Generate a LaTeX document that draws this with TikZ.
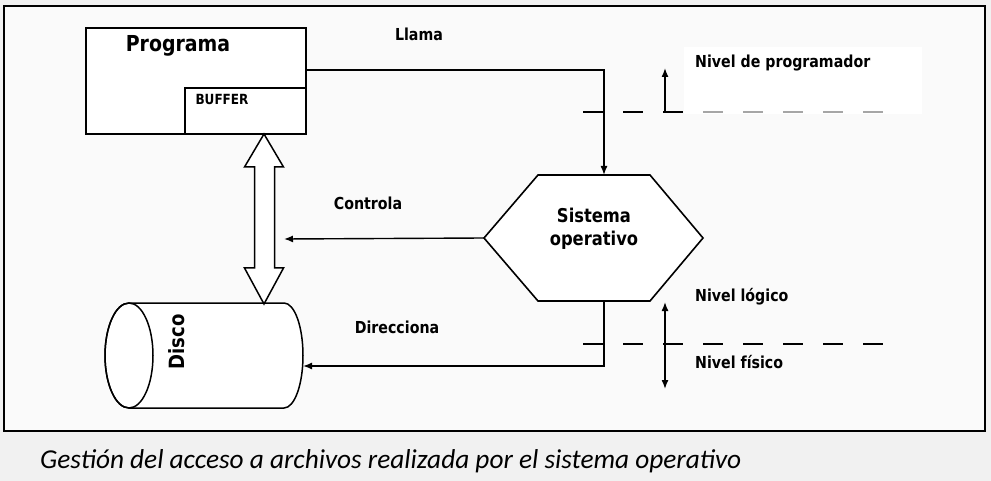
\documentclass[tikz,border=0pt]{standalone}
\usepackage{fontspec}
\setmainfont{DejaVu Sans}[FakeStretch=0.86]
\newfontfamily\capfont{Carlito}
\usetikzlibrary{arrows.meta,calc}
\begin{document}
\begin{tikzpicture}[x=1pt,y=-1pt,
  box/.style={draw,line width=1.6pt,fill=white,inner sep=0pt},
  conn/.style={line width=1.4pt},
  tip/.style={-{Latex[length=9pt,width=7pt]}},
  lbl/.style={font=\bfseries\fontsize{#1}{#1}\selectfont,inner sep=0pt},
  lbl/.default=16.5,
  dashline/.style={line width=1.4pt,dash pattern=on 20pt off 20pt}]
\useasboundingbox (0,0) rectangle (991,481);
\fill[gray!11] (0,0) rectangle (991,481);
\draw[line width=2pt,fill=gray!4] (4,6) rectangle (985,431);
% white label area
\fill[white] (684,47) rectangle (922,114);
% Programa box
\node[box,anchor=north west,minimum width=220pt,minimum height=106pt] (prog) at (85,27) {};
\node[box,anchor=south east,minimum width=121pt,minimum height=46pt] (buf) at (prog.south east) {};
\node[lbl=22] (progt) at (178,46) {Programa};
\node[lbl=14] (buft) at (222,99) {BUFFER};
% hexagon
\coordinate (soT) at (604,175);
\coordinate (soL) at (484,238);
\coordinate (soB) at (604,301);
\draw[line width=1.6pt,fill=white] (484,238) -- (538,175) -- (650,175) -- (703,238) -- (650,301) -- (538,301) -- cycle;
\node[lbl=19,align=center] (so) at (594,229) {Sistema\\[4pt]operativo};
% disk
\draw[line width=1.5pt,fill=white] (129,303) -- (284,303)
  arc[start angle=-90,end angle=90,x radius=19,y radius=52.5] -- (129,408)
  arc[start angle=90,end angle=270,x radius=24,y radius=52.5] -- cycle;
\draw[line width=1.5pt] (129,355.5) ellipse[x radius=24,y radius=52.5];
\node[lbl=21,rotate=90] (disco) at (177,342) {Disco};
\coordinate (diskE) at (303,366);
\coordinate (ctrlEnd) at (284,239);
% hollow double arrow
\draw[line width=1.5pt,fill=white,line join=miter] (264,134) -- (283.5,167) -- (274.5,167) -- (274.5,268) -- (283.5,268) -- (264,304)
  -- (244.5,268) -- (254.5,268) -- (254.5,167) -- (244.5,167) -- cycle;
% connectors
\draw[conn,tip] ($(prog.north east)+(0,43)$) -| (soT);
\draw[conn,tip] (soL) -- (ctrlEnd);
\draw[conn,tip] (soB) |- (diskE);
% labels
\node[lbl] (llama) at (419,34) {Llama};
\node[lbl] (controla) at (368,203) {Controla};
\node[lbl] (direcciona) at (397,327) {Direcciona};
% level lines
\draw[dashline] (583,112) -- (683,112);
\draw[dashline,gray!70] (703,112) -- (883,112);
\draw[dashline] (583,344) -- (883,344);
\coordinate (upB) at (665,112);
\coordinate (upT) at (665,68);
\draw[conn,tip] (upB) -- (upT);
\coordinate (dA) at (665,302);
\coordinate (dB) at (665,389);
\draw[conn,{Latex[length=9pt,width=7pt]}-{Latex[length=9pt,width=7pt]}] (dA) -- (dB);
\node[lbl,anchor=west] (np) at (695,63) {Nivel de programador};
\node[lbl,anchor=west] (nl) at (695,297) {Nivel lógico};
\node[lbl,anchor=west] (nf) at (695,362) {Nivel físico};
% caption
\node[anchor=west,inner sep=0pt,font=\capfont\itshape\fontsize{27.3}{27.3}\selectfont] (cap) at (40,461) {Gestión del acceso a archivos realizada por el sistema operativo};
\end{tikzpicture}
\end{document}
